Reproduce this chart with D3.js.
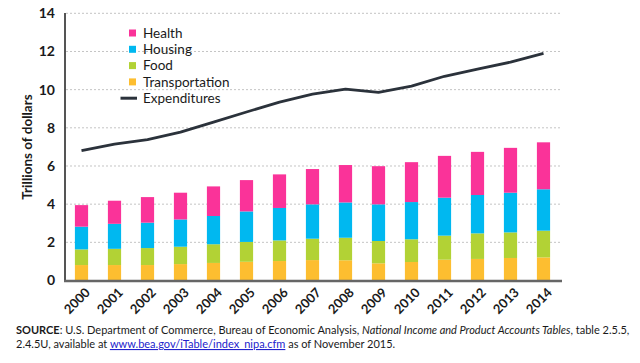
<!DOCTYPE html>
<html>
<head>
<meta charset="utf-8">
<script src="https://cdn.jsdelivr.net/npm/d3@7"></script>
<style>
  body { margin: 0; background: #fff; }
  svg text { font-family: Lato, "Open Sans", sans-serif; }
</style>
</head>
<body>
<svg id="chart" width="640" height="363"></svg>
<script>
// values, trillions of dollars
var years = ["2000","2001","2002","2003","2004","2005","2006","2007","2008","2009","2010","2011","2012","2013","2014"];
var transportation = [0.81,0.81,0.81,0.86,0.92,0.98,1.02,1.07,1.06,0.90,0.97,1.09,1.13,1.18,1.21];
var food           = [0.82,0.85,0.89,0.91,0.98,1.04,1.08,1.12,1.18,1.17,1.19,1.26,1.34,1.34,1.40];
var housing        = [1.19,1.31,1.33,1.43,1.48,1.60,1.70,1.80,1.85,1.92,1.95,1.99,2.01,2.08,2.17];
var health         = [1.13,1.21,1.34,1.40,1.55,1.64,1.76,1.85,1.96,2.00,2.09,2.19,2.26,2.35,2.46];
var expenditures   = [6.8,7.15,7.38,7.77,8.3,8.83,9.35,9.76,10.03,9.86,10.18,10.7,11.08,11.44,11.9];
var yTicks = [0,2,4,6,8,10,12,14];

var seriesNames = ["Transportation","Food","Housing","Health"];
var seriesColors = {Transportation:"#fdbe30", Food:"#b2d235", Housing:"#00b8f0", Health:"#fa3399"};

var svg = d3.select("#chart");

var x = d3.scaleBand().domain(years).range([65, 560]).paddingInner(0.6).paddingOuter(0.3);
var y = d3.scaleLinear().domain([0, 14]).range([280.5, 13.3]);

// rows for the stack
var rows = years.map(function(yr, i){
  return {year: yr, Transportation: transportation[i], Food: food[i], Housing: housing[i], Health: health[i]};
});
var stacked = d3.stack().keys(seriesNames)(rows);

// dotted grid
svg.append("g")
  .selectAll("line")
  .data(yTicks.filter(function(d){ return d > 0; }))
  .join("line")
    .attr("x1", 66).attr("x2", 562)
    .attr("y1", function(d){ return y(d); })
    .attr("y2", function(d){ return y(d); })
    .attr("stroke", "#c4c4c4")
    .attr("stroke-width", 1)
    .attr("stroke-dasharray", "2,2");

// bars
svg.append("g")
  .selectAll("g")
  .data(stacked)
  .join("g")
    .attr("fill", function(d){ return seriesColors[d.key]; })
  .selectAll("rect")
  .data(function(d){ return d; })
  .join("rect")
    .attr("x", function(d){ return x(d.data.year); })
    .attr("width", x.bandwidth())
    .attr("y", function(d){ return y(d[1]); })
    .attr("height", function(d){ return y(d[0]) - y(d[1]); });

// expenditures line
var line = d3.line()
  .x(function(d, i){ return x(years[i]) + x.bandwidth() / 2; })
  .y(function(d){ return y(d); });

svg.append("path")
  .datum(expenditures)
  .attr("d", line)
  .attr("fill", "none")
  .attr("stroke", "#2b323b")
  .attr("stroke-width", 2.8)
  .attr("stroke-linejoin", "round");

// y axis
var yAxis = svg.append("g")
  .attr("transform", "translate(65,0)")
  .call(d3.axisLeft(y).tickValues(yTicks).tickSize(0).tickPadding(10));
yAxis.select(".domain").attr("stroke", "#555").attr("stroke-width", 2).attr("d", "M0,13V281");
yAxis.selectAll("text")
  .attr("font-family", "Lato, sans-serif")
  .attr("font-size", 14)
  .attr("font-weight", "bold")
  .attr("fill", "#1a1a1a");

// x axis
var xAxis = svg.append("g")
  .attr("transform", "translate(0,281)")
  .call(d3.axisBottom(x).tickSize(0));
xAxis.select(".domain").attr("stroke", "#666").attr("stroke-width", 2.5).attr("d", "M64,0H562");
xAxis.selectAll("text")
  .attr("font-family", "Lato, sans-serif")
  .attr("font-size", 13)
  .attr("font-weight", "bold")
  .attr("fill", "#1a1a1a")
  .attr("text-anchor", "end")
  .attr("dy", null)
  .attr("transform", "translate(7,10) rotate(-45)")
  .attr("y", 0)
  .attr("dominant-baseline", "middle");

// y label
svg.append("text")
  .attr("transform", "translate(32,147) rotate(-90)")
  .attr("text-anchor", "middle")
  .attr("font-size", 13.5)
  .attr("font-weight", "bold")
  .attr("fill", "#1a1a1a")
  .text("Trillions of dollars");

// legend
var legendItems = ["Health","Housing","Food","Transportation","Expenditures"];
var legend = svg.append("g").attr("transform", "translate(129,33)");
legendItems.forEach(function(name, i){
  var g = legend.append("g").attr("transform", "translate(0," + (i * 16.3) + ")");
  if (seriesColors[name]) {
    g.append("rect").attr("x", 0).attr("y", -3.5).attr("width", 7).attr("height", 7).attr("fill", seriesColors[name]);
  } else {
    g.append("line").attr("x1", -8.5).attr("x2", 8).attr("y1", 0).attr("y2", 0)
      .attr("stroke", "#2b323b").attr("stroke-width", 3);
  }
  g.append("text")
    .attr("x", 14)
    .attr("y", 0)
    .attr("dy", "0.35em")
    .attr("font-size", 13.5)
    .attr("fill", "#1a1a1a")
    .text(name);
});

// source note
var noteSize = 11;
var note = svg.append("text").attr("x", 16).attr("y", 334).attr("font-size", noteSize).attr("fill", "#1a1a1a");
note.append("tspan").attr("font-weight", "bold").text("SOURCE");
note.append("tspan").text(": U.S. Department of Commerce, Bureau of Economic Analysis, ");
note.append("tspan").attr("font-style", "italic").text("National Income and Product Accounts Tables");
note.append("tspan").text(", table 2.5.5,");

var note2 = svg.append("text").attr("x", 16).attr("y", 348).attr("font-size", noteSize).attr("fill", "#1a1a1a");
note2.append("tspan").text("2.4.5U, available at ");
note2.append("tspan").attr("fill", "#2222cc").attr("text-decoration", "underline").text("www.bea.gov/iTable/index_nipa.cfm");
note2.append("tspan").text(" as of November 2015.");

// shrink the note so the first line ends where the original does
var w = note.node().getComputedTextLength();
if (w > 614) {
  var s = noteSize * 614 / w;
  note.attr("font-size", s);
  note2.attr("font-size", s);
}
</script>
</body>
</html>
